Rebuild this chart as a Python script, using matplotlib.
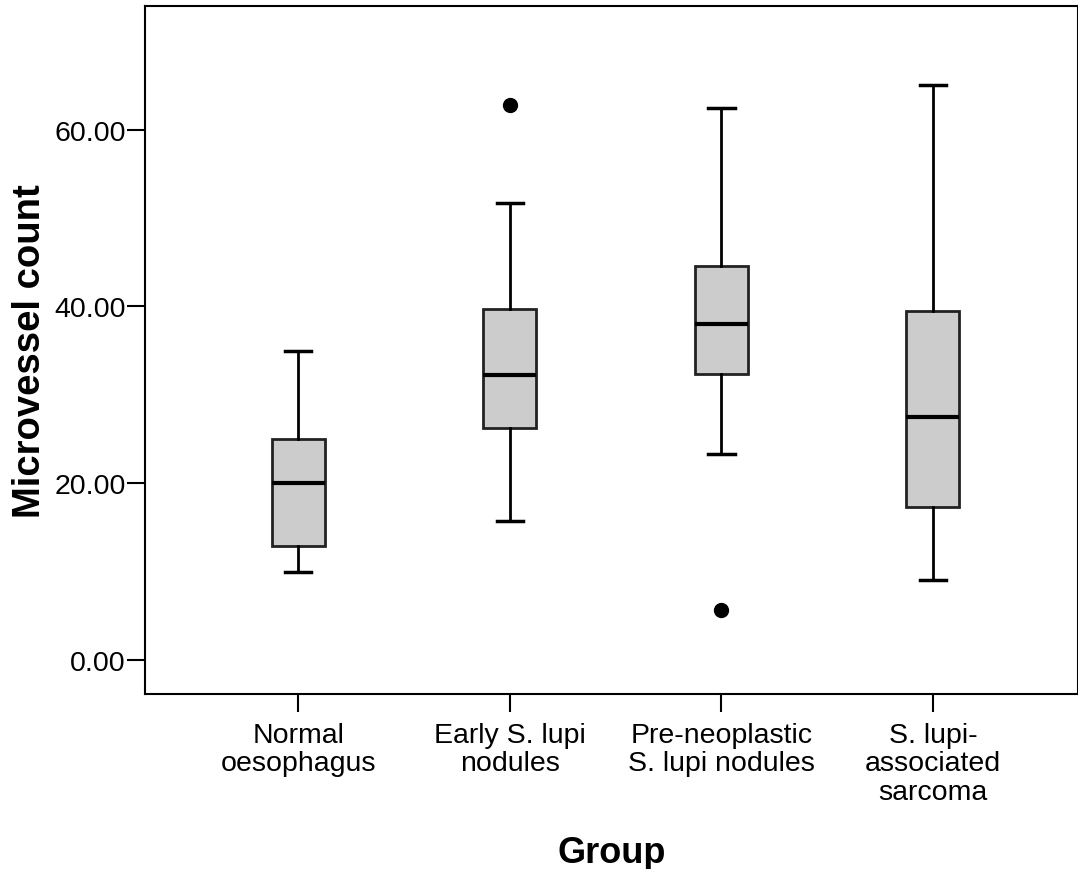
import numpy as np
import matplotlib
matplotlib.use('Agg')
import matplotlib.pyplot as plt

plt.rcParams['font.family'] = ['Liberation Sans', 'DejaVu Sans']

# summary stats
groups = ['Normal\noesophagus', 'Early S. lupi\nnodules',
          'Pre-neoplastic\nS. lupi nodules', 'S. lupi-\nassociated\nsarcoma']
whislo = [10.0, 15.7, 23.3, 9.0]
q1 = [12.95, 26.3, 32.4, 17.35]
med = [20.0, 32.3, 38.05, 27.55]
q3 = [25.0, 39.7, 44.55, 39.5]
whishi = [35.0, 51.7, 62.45, 65.1]
outliers = [[], [62.8], [5.6], []]

stats = []
for i in range(len(groups)):
    stats.append(dict(whislo=whislo[i], q1=q1[i], med=med[i], q3=q3[i],
                      whishi=whishi[i], fliers=outliers[i]))

fig = plt.figure(figsize=(10.78, 8.70), dpi=100)
ax = fig.add_axes([145/1078., 175/870., 933/1078., 688/870.])

pos = np.arange(1, len(groups)+1)
ax.bxp(stats, positions=pos, widths=0.25, capwidths=0.125, patch_artist=True,
       boxprops=dict(facecolor='#cccccc', edgecolor='#222222', lw=2),
       medianprops=dict(color='black', lw=3),
       whiskerprops=dict(color='black', lw=2),
       capprops=dict(color='black', lw=2.5),
       flierprops=dict(marker='o', markerfacecolor='black', markeredgecolor='black',
                       markersize=10))

ax.set_xlim(0.276, 4.686)
ax.set_ylim(-3.85, 74.0)
ax.set_yticks([0, 20, 40, 60])
ax.set_yticklabels(['%.2f' % v for v in [0, 20, 40, 60]])
ax.set_xticks(pos)
ax.set_xticklabels(groups, linespacing=1.12)
ax.tick_params(axis='y', length=13, width=1.5, labelsize=20.5, pad=1)
ax.tick_params(axis='x', length=13, width=1.5, labelsize=20.5, pad=7)
for s in ax.spines.values():
    s.set_linewidth(1.5)

ax.set_ylabel('Microvessel count', fontsize=27.5, fontweight='bold', labelpad=4)
ax.set_xlabel('Group', fontsize=26, fontweight='bold', labelpad=22)

fig.savefig('out.png', dpi=100)
